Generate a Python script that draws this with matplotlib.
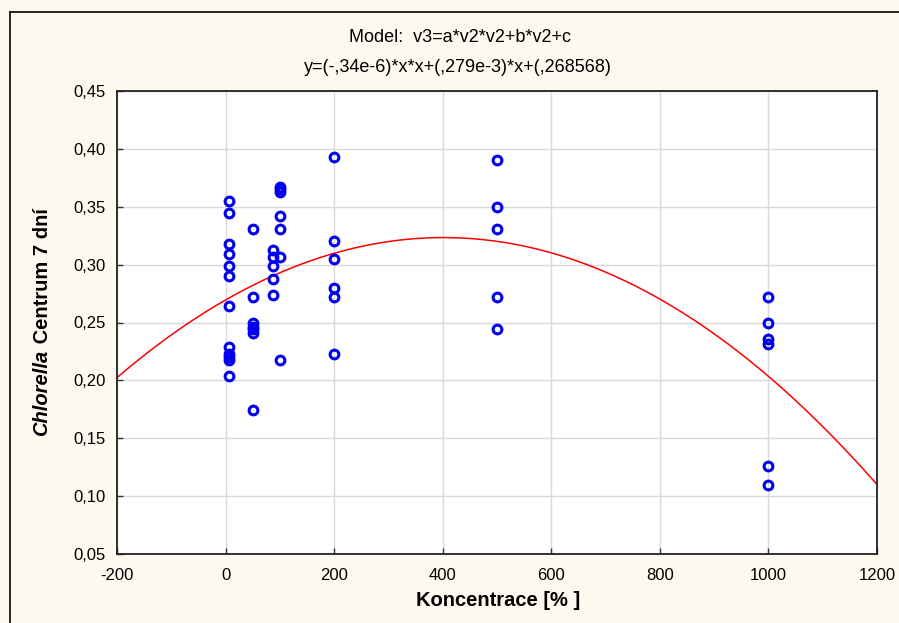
import numpy as np
import matplotlib
matplotlib.use("Agg")
import matplotlib.pyplot as plt
from matplotlib.ticker import FuncFormatter

plt.rcParams['font.family'] = ['Liberation Sans', 'DejaVu Sans']

# ---- data ----
conc_0 = [6] * 12
vals_0 = [0.355, 0.345, 0.318, 0.309, 0.299, 0.290, 0.264, 0.229, 0.223, 0.220, 0.218, 0.204]
conc_50 = [50] * 7
vals_50 = [0.331, 0.272, 0.250, 0.246, 0.244, 0.241, 0.174]
conc_88 = [88] * 5
vals_88 = [0.313, 0.307, 0.299, 0.288, 0.274]
conc_100 = [100] * 7
vals_100 = [0.367, 0.365, 0.363, 0.342, 0.331, 0.307, 0.218]
conc_200 = [200] * 6
vals_200 = [0.393, 0.320, 0.305, 0.280, 0.272, 0.223]
conc_500 = [500] * 5
vals_500 = [0.390, 0.350, 0.331, 0.272, 0.244]
conc_1000 = [1000] * 6
vals_1000 = [0.272, 0.250, 0.236, 0.231, 0.126, 0.110]

x_data = np.array(conc_0 + conc_50 + conc_88 + conc_100 + conc_200 + conc_500 + conc_1000, dtype=float)
y_data = np.array(vals_0 + vals_50 + vals_88 + vals_100 + vals_200 + vals_500 + vals_1000)

x_ticks = [-200, 0, 200, 400, 600, 800, 1000, 1200]
y_ticks = [0.05, 0.10, 0.15, 0.20, 0.25, 0.30, 0.35, 0.40, 0.45]

title_line1 = "Model:  v3=a*v2*v2+b*v2+c"
title_line2 = "y=(-,34e-6)*x*x+(,279e-3)*x+(,268568)"
xlabel = "Koncentrace [% ]"

# quadratic fit of the data (model v3 = a*v2^2 + b*v2 + c)
coef = np.polyfit(x_data, y_data, 2)

W, H = 899, 623
fig = plt.figure(figsize=(W / 100, H / 100), dpi=100)
bg = '#fdf9ee'
fig.patch.set_facecolor(bg)

# outer frame
fig.add_artist(plt.Line2D([10 / W, 10 / W], [0, 1 - 12 / H], color='black', lw=1.2, transform=fig.transFigure))
fig.add_artist(plt.Line2D([10 / W, 1], [1 - 12 / H, 1 - 12 / H], color='black', lw=1.2, transform=fig.transFigure))

ax = fig.add_axes([117 / W, (H - 554) / H, (877 - 117) / W, (554 - 91) / H])
ax.set_facecolor('white')

ax.set_xlim(-200, 1200)
ax.set_ylim(0.05, 0.45)
ax.set_xticks(x_ticks)
ax.set_yticks(y_ticks)
ax.yaxis.set_major_formatter(FuncFormatter(lambda v, p: f"{v:.2f}".replace('.', ',')))
ax.xaxis.set_major_formatter(FuncFormatter(lambda v, p: f"{v:.0f}"))
ax.grid(True, color='#d9d9d9', lw=1.0)
ax.set_axisbelow(True)
ax.tick_params(direction='in', length=4, width=1, color='#333333', labelsize=12)
ax.tick_params(axis='x', pad=10)
ax.tick_params(axis='y', pad=8)
for s in ax.spines.values():
    s.set_color('#222222')
    s.set_linewidth(1.3)

xs = np.linspace(-200, 1200, 400)
ax.plot(xs, np.polyval(coef, xs), color='red', lw=1.1, zorder=2)
ax.plot(x_data, y_data, linestyle='none', marker='o', markersize=6.3, markerfacecolor='none',
        markeredgecolor='#0000ee', markeredgewidth=2.2, zorder=3)

fig.text(460 / W, 1 - 38 / H, title_line1, ha='center', va='center', fontsize=13)
fig.text(458 / W, 1 - 67 / H, title_line2, ha='center', va='center', fontsize=13)
fig.text(498 / W, 1 - 601 / H, xlabel, ha='center', va='center', fontsize=14.5, fontweight='bold')

# y label with mixed italic/bold
fig.canvas.draw()
r = fig.canvas.get_renderer()
t1 = fig.text(42 / W, 0.5, "Chlorella", rotation=90, ha='center', va='bottom',
              fontsize=14.5, fontweight='bold', fontstyle='italic')
t2 = fig.text(42 / W, 0.5, " Centrum 7 dní", rotation=90, ha='center', va='bottom',
              fontsize=14.5, fontweight='bold')
h1 = t1.get_window_extent(r).height
h2 = t2.get_window_extent(r).height
center = H - 322
start = center - (h1 + h2) / 2
t1.set_y(start / H)
t2.set_y((start + h1) / H)

fig.savefig('out.png', dpi=100, facecolor=bg)
